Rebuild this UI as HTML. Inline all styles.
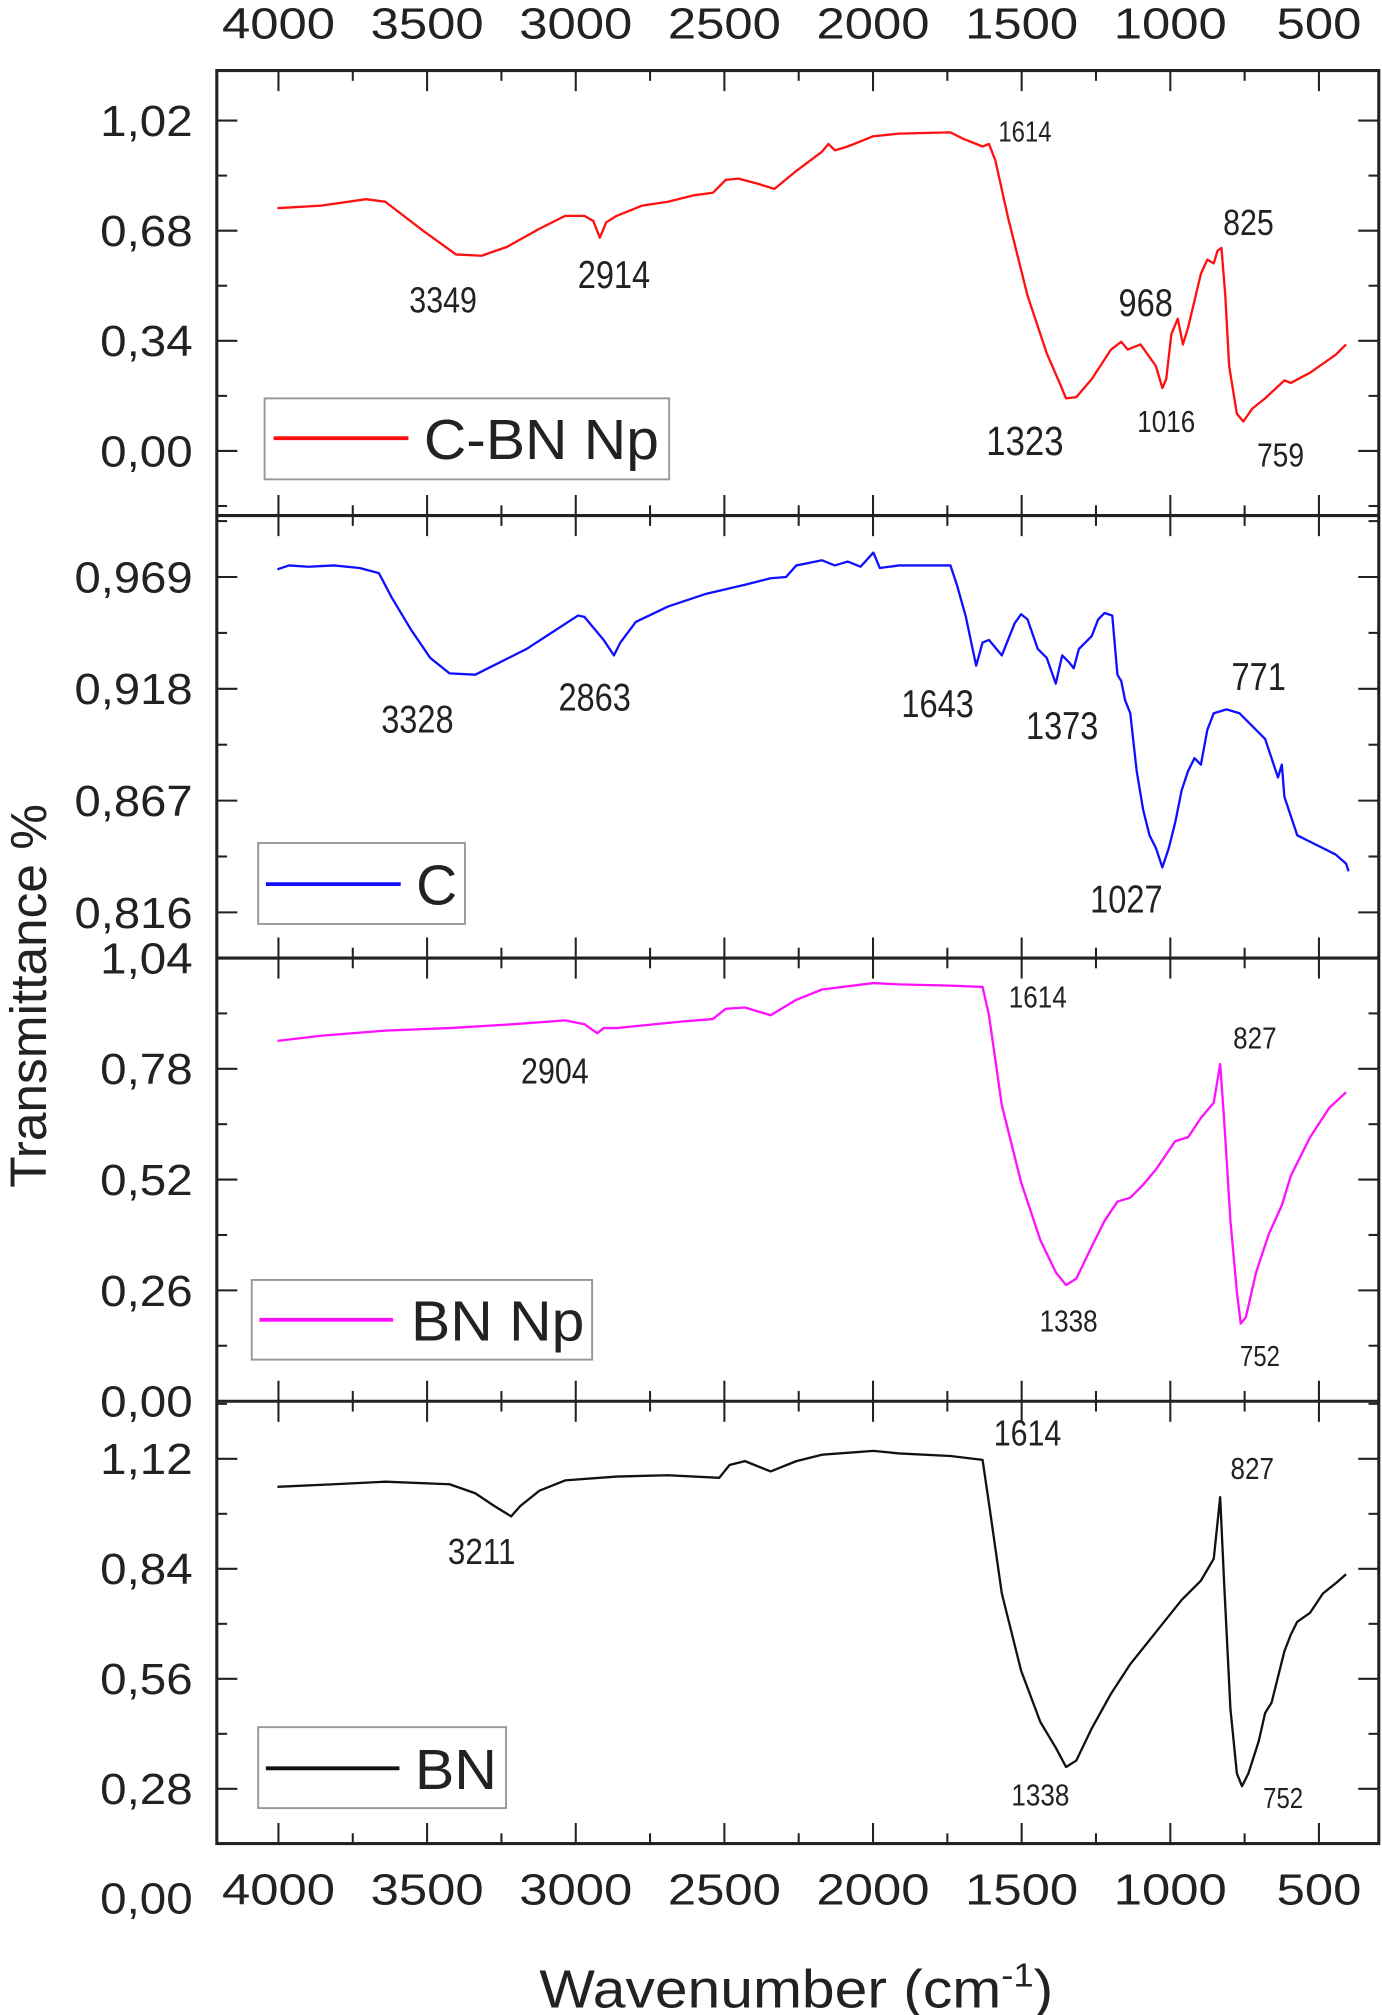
<!DOCTYPE html>
<html><head><meta charset="utf-8">
<style>html,body{margin:0;padding:0;background:#fff;}svg{display:block}</style>
</head><body>
<svg id="s" width="1382" height="2015" viewBox="0 0 1076 1568" preserveAspectRatio="none" xmlns="http://www.w3.org/2000/svg" font-family="Liberation Sans, Arial, sans-serif" fill="#222">
<g id="ticks" stroke="#222" stroke-width="1.6"></g>
<g fill="none" stroke="#222" stroke-width="2.4">
<rect x="168.8" y="54.9" width="904.7" height="1379.7"/>
<line x1="168.8" y1="401.2" x2="1073.5" y2="401.2"/>
<line x1="168.8" y1="745.5" x2="1073.5" y2="745.5"/>
<line x1="168.8" y1="1090.4" x2="1073.5" y2="1090.4"/>
</g>
<g fill="none" stroke-width="1.8" stroke-linejoin="round">
<polyline stroke="#ff1010" points="216,162 250,160 285,155 300,157 330,180 355,198 375,199 395,192 420,178 440,168 455,168 462,172 467,185 472,173 480,168 500,160 520,157 540,152 555,150 565,140 575,139 590,143 603,147 620,133 640,118 645,112 650,117 660,114 680,106 700,104 740,103 750,108 765,114 770,112 775,125 785,170 800,230 815,275 825,298 830,310 838,309 850,295 865,272 873,266 878,272 883,270 888,268 893,275 900,285 905,302 908,295 912,260 917,248 921,268 925,255 935,213 940,202 945,205 948,195 951,193 954,230 957,285 963,322 968,328 975,318 985,310 1000,296 1005,298 1020,290 1040,276 1048,268"/>
<polyline stroke="#1010ff" points="216,443 225,440 240,441 260,440 280,442 295,446 305,465 320,490 335,512 350,524 370,525 390,515 410,505 430,492 450,479 455,480 470,498 478,510 483,500 495,484 520,472 550,462 580,455 600,450 612,449 620,440 630,438 640,436 650,440 660,437 670,441 680,430 685,442 700,440 740,440 745,455 752,480 760,518 765,500 770,498 780,510 790,485 795,478 800,482 808,505 815,512 822,532 827,510 832,515 836,520 840,505 845,500 850,495 855,482 860,477 866,479 870,525 873,530 876,545 880,555 885,600 890,630 895,650 900,660 905,675 910,660 915,640 920,615 925,600 930,590 935,595 940,568 945,555 955,552 965,555 975,565 985,575 990,590 995,605 998,595 1000,620 1005,635 1010,650 1020,655 1030,660 1040,665 1048,672 1050,678"/>
<polyline stroke="#ff10ff" points="216,810 250,806 300,802 350,800 400,797 440,794 455,797 465,804 470,800 480,800 500,798 530,795 555,793 565,785 580,784 600,790 620,778 640,770 680,765 700,766 740,767 765,768 770,790 780,860 795,920 810,965 822,990 830,1000 838,995 850,970 860,950 870,935 880,932 890,922 900,910 915,888 925,885 935,870 945,858 950,828 953,870 958,950 963,1005 966,1030 970,1025 978,990 988,960 998,938 1005,915 1010,905 1020,885 1035,862 1048,850"/>
<polyline stroke="#111" points="216,1157 260,1155 300,1153 350,1155 370,1162 385,1172 398,1180 405,1172 420,1160 440,1152 480,1149 520,1148 560,1150 568,1140 580,1137 600,1145 620,1137 640,1132 680,1129 700,1131 740,1133 765,1136 770,1170 780,1240 795,1300 810,1340 822,1360 830,1375 838,1370 850,1345 865,1318 880,1295 900,1270 920,1245 935,1230 945,1213 950,1165 953,1230 958,1330 963,1380 967,1390 972,1380 980,1355 985,1333 990,1325 995,1305 1000,1285 1005,1272 1010,1262 1020,1255 1030,1240 1040,1232 1048,1225"/>
</g>
<g id="labels" font-size="34"></g>
<!-- legends -->
<g stroke="#999" stroke-width="1.5" fill="#fff">
<rect x="206" y="310" width="315" height="63"/>
<rect x="201" y="656" width="161" height="63"/>
<rect x="196" y="996" width="265" height="62"/>
<rect x="201" y="1344" width="193" height="63"/>
</g>
<g stroke-width="3">
<line x1="213" y1="341" x2="318" y2="341" stroke="#ff1010"/>
<line x1="207" y1="688" x2="312" y2="688" stroke="#1010ff"/>
<line x1="202" y1="1027" x2="306" y2="1027" stroke="#ff10ff"/>
<line x1="207" y1="1376" x2="311" y2="1376" stroke="#111"/>
</g>
<g font-size="44">
<text x="330" y="357" textLength="183" lengthAdjust="spacingAndGlyphs">C-BN Np</text>
<text x="324" y="704" textLength="32" lengthAdjust="spacingAndGlyphs">C</text>
<text x="320" y="1043" textLength="135" lengthAdjust="spacingAndGlyphs">BN Np</text>
<text x="323" y="1392" textLength="64" lengthAdjust="spacingAndGlyphs">BN</text>
</g>
<text transform="translate(36,775) rotate(-90)" text-anchor="middle" font-size="40">Transmittance %</text>
<text x="620" y="1562" text-anchor="middle" font-size="42" textLength="400" lengthAdjust="spacingAndGlyphs">Wavenumber (cm<tspan dy="-16" font-size="26">-1</tspan><tspan dy="16">)</tspan></text>
</svg>
<script>
(function(){
var NS="http://www.w3.org/2000/svg";
var T=document.getElementById('ticks'),L=document.getElementById('labels');
function ln(x1,y1,x2,y2){var l=document.createElementNS(NS,'line');l.setAttribute('x1',x1);l.setAttribute('y1',y1);l.setAttribute('x2',x2);l.setAttribute('y2',y2);T.appendChild(l);}
function tx(s,x,y,size,anchor,w){var t=document.createElementNS(NS,'text');t.setAttribute('x',x);t.setAttribute('y',y);t.setAttribute('font-size',size);t.setAttribute('text-anchor',anchor||'middle');if(w){t.setAttribute('textLength',w);t.setAttribute('lengthAdjust','spacingAndGlyphs');}t.textContent=s;L.appendChild(t);}
var X0=168.8,X1=1073.5;
function xw(w){return 216.8+(4000-w)*0.23146;}
var panels=[[54.9,401.2],[401.2,745.5],[745.5,1090.4],[1090.4,1434.6]];
panels.forEach(function(p){
 for(var w=4000;w>=500;w-=250){var x=xw(w);var L2=(w%500==0)?16:8;ln(x,p[0],x,p[0]+L2);ln(x,p[1],x,p[1]-L2);}
});
// y ticks: [top,bottom,y0,step(px),labels]
var ys=[[54.9,401.2,93.8,85.7,['1,02','0,68','0,34','0,00']],
[401.2,745.5,449,87,['0,969','0,918','0,867','0,816']],
[745.5,1090.4,745.5,86.2,['1,04','0,78','0,52','0,26','0,00']],
[1090.4,1434.6,1135.2,85.6,['1,12','0,84','0,56','0,28']]];
ys.forEach(function(a){
 for(var k=-4;k<12;k++){var y=a[2]+k*a[3]/2;if(y<=a[0]+1||y>=a[1]-1)continue;var len=(k%2==0)?16:8;ln(X0,y,X0+len,y);ln(X1,y,X1-len,y);}
 a[4].forEach(function(s,i){var y=a[2]+i*a[3];tx(s,150,y+12,34,'end',s.length==5?92:72);});
});
tx('0,00',150,1489,34,'end',72);
[4000,3500,3000,2500,2000,1500,1000,500].forEach(function(w){var x=xw(w),wd=w>=1000?88:66;tx(String(w),x,30,34,'middle',wd);tx(String(w),x,1482,34,'middle',wd);});
var ann=[['3349',345,243,28],['2914',478,224,30],['1614',798,110,22],['968',892,246,30],['825',972,183,28],['1323',798,354,32],['1016',908,336,24],['759',997,363,26],
['3328',325,570,30],['2863',463,553,30],['1643',730,558,30],['1373',827,575,30],['771',980,537,30],['1027',877,710,30],
['1614',808,784,24],['2904',432,843,28],['827',977,816,24],['1338',832,1036,24],['752',981,1063,22],
['1614',800,1125,28],['3211',375,1217,28],['827',975,1151,24],['1338',810,1405,24],['752',999,1407,22]];
ann.forEach(function(a){tx(a[0],a[1],a[2],a[3],'middle',a[0].length*a[3]*0.47);});
})();
</script>
</body></html>
